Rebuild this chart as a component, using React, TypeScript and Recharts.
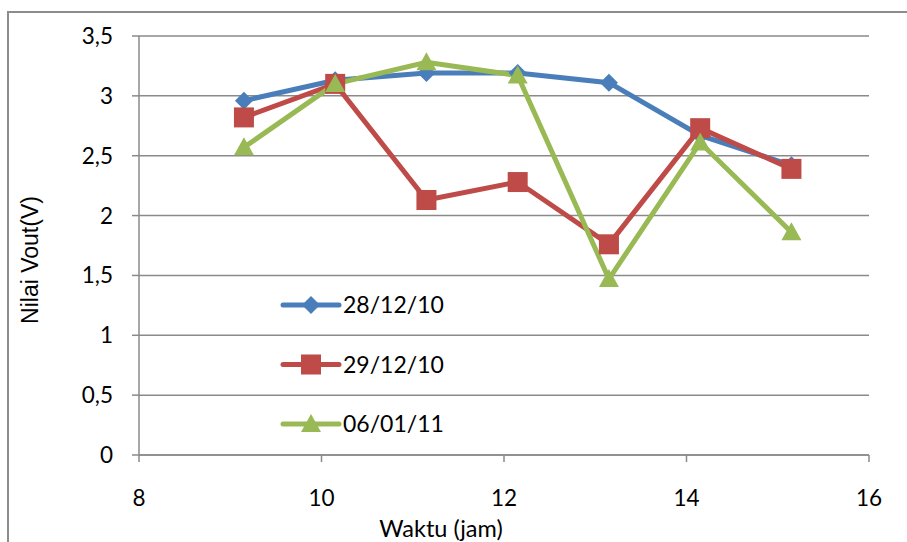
import React from 'react';
import { LineChart, Line, XAxis, YAxis, CartesianGrid, Legend } from 'recharts';

const hours = [9.15, 10.15, 11.15, 12.15, 13.15, 14.15, 15.15];
const vout281210 = [2.96, 3.13, 3.19, 3.19, 3.11, 2.67, 2.42];
const vout291210 = [2.82, 3.1, 2.13, 2.28, 1.76, 2.73, 2.39];
const vout060111 = [2.57, 3.1, 3.28, 3.17, 1.47, 2.61, 1.86];
const seriesNames = ['28/12/10', '29/12/10', '06/01/11'];
const seriesKeys = ['s1', 's2', 's3'];
const seriesColors = ['#4A7EBB', '#BE4B48', '#98B954'];
const xTicks = [8, 10, 12, 14, 16];
const yTicks = [0, 0.5, 1, 1.5, 2, 2.5, 3, 3.5];
const xTitle = 'Waktu (jam)';
const yTitle = 'Nilai Vout(V)';

const data = hours.map((h, i) => ({
  x: h,
  s1: vout281210[i],
  s2: vout291210[i],
  s3: vout060111[i],
}));

const GRID = '#8a8a8a';
const TICK_FONT = 'Lato, "Open Sans", sans-serif';

function Marker({ kind, cx, cy, fill }: any) {
  if (cx == null || cy == null) return <g />;
  if (kind === 0) {
    return <polygon points={`${cx},${cy - 9} ${cx + 9},${cy} ${cx},${cy + 9} ${cx - 9},${cy}`} fill={fill} />;
  }
  if (kind === 1) {
    return <rect x={cx - 10} y={cy - 10} width={20} height={20} fill={fill} />;
  }
  return <polygon points={`${cx},${cy - 10} ${cx + 10},${cy + 8} ${cx - 10},${cy + 8}`} fill={fill} />;
}

function LegendContent({ payload }: any) {
  const items = payload || [];
  return (
    <svg width={200} height={160} style={{ overflow: 'visible' }}>
      {seriesKeys.map((k, i) => {
        const it = items.find((p: any) => p.dataKey === k) || {};
        const color = it.color || seriesColors[i];
        const label = it.value || seriesNames[i];
        const y = 15 + i * 59.5;
        return (
          <g key={k}>
            <line x1={0} x2={56} y1={y} y2={y} stroke={color} strokeWidth={5} strokeLinecap="round" />
            <Marker kind={i} cx={28} cy={y} fill={color} />
            <text x={60} y={y} dy="0.36em" fontFamily={TICK_FONT} fontSize={23} fill="#000">
              {label}
            </text>
          </g>
        );
      })}
    </svg>
  );
}

export default function App() {
  return (
    <div
      style={{
        position: 'fixed',
        left: 0,
        top: 0,
        width: 907,
        height: 542,
        overflow: 'hidden',
        background: '#fff',
      }}
    >
      <div
        style={{
          position: 'absolute',
          left: 7,
          top: 11,
          width: 1000,
          height: 1000,
          border: '2px solid #8c8c8c',
        }}
      />
      <div style={{ position: 'absolute', left: 0, top: 0 }}>
        <LineChart
          width={907}
          height={542}
          data={data}
          margin={{ top: 36, right: 38, bottom: 0, left: 0 }}
        >
          <CartesianGrid horizontal vertical={false} stroke={GRID} strokeWidth={1.5} />
          <XAxis
            type="number"
            dataKey="x"
            domain={[8, 16]}
            ticks={xTicks}
            interval={0}
            height={87}
            stroke={GRID}
            strokeWidth={1.5}
            tickSize={7}
            tickMargin={28}
            tick={{ fill: '#000', fontSize: 22.5, fontFamily: TICK_FONT }}
            label={{
              content: (p: any) => {
                const vb = p.viewBox || {};
                return (
                  <text
                    x={vb.x + vb.width / 2 - 63}
                    y={537}
                    textAnchor="middle"
                    fontFamily={TICK_FONT}
                    fontSize={23.5}
                    fill="#000"
                  >
                    {xTitle}
                  </text>
                );
              },
            }}
          />
          <YAxis
            type="number"
            domain={[0, 3.5]}
            ticks={yTicks}
            interval={0}
            width={139}
            stroke={GRID}
            strokeWidth={1.5}
            tickSize={7}
            tickMargin={19}
            tickFormatter={(v: number) => String(v).replace('.', ',')}
            tick={{ fill: '#000', fontSize: 22.5, fontFamily: TICK_FONT }}
            label={{
              content: () => (
                <text
                  x={30}
                  y={260}
                  transform="rotate(-90 30 260)"
                  textAnchor="middle"
                  dominantBaseline="central"
                  fontFamily='"Liberation Sans", Arial, sans-serif'
                  fontSize={23}
                  fill="#000"
                >
                  {yTitle}
                </text>
              ),
            }}
          />
          <Legend
            layout="vertical"
            align="center"
            verticalAlign="middle"
            wrapperStyle={{ left: 283, top: 290, width: 200, height: 160 }}
            content={(props: any) => <LegendContent {...props} />}
          />
          {seriesKeys.map((k, i) => (
            <Line
              key={k}
              type="linear"
              dataKey={k}
              name={seriesNames[i]}
              stroke={seriesColors[i]}
              strokeWidth={5}
              isAnimationActive={false}
              dot={(props: any) => <Marker key={`${k}-${props.index}`} kind={i} cx={props.cx} cy={props.cy} fill={seriesColors[i]} />}
              activeDot={false}
            />
          ))}
        </LineChart>
      </div>
    </div>
  );
}
